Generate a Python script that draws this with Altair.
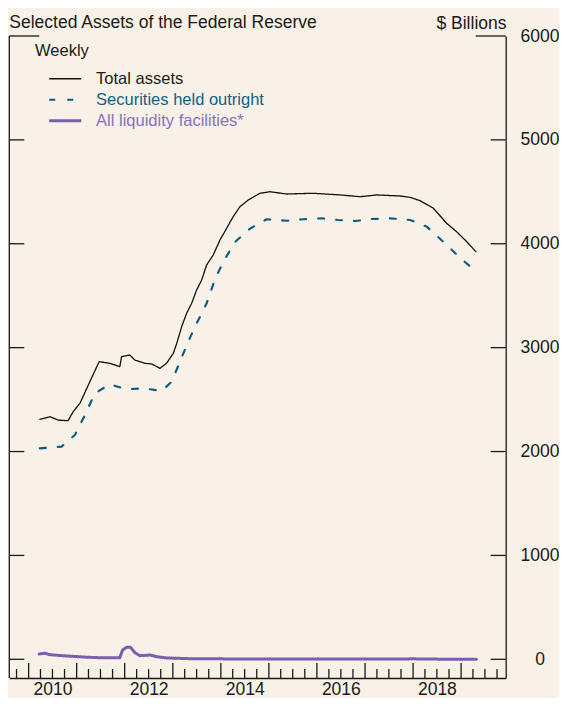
import altair as alt
import pandas as pd

# ---- data ----
total_dates = ["2010-03-27", "2010-06-12", "2010-08-13", "2010-10-28", "2010-12-05", "2011-01-26",
               "2011-04-11", "2011-06-21", "2011-09-10", "2011-11-25", "2011-12-08", "2012-02-09",
               "2012-03-18", "2012-06-03", "2012-07-24", "2012-09-25", "2012-11-14", "2013-01-05",
               "2013-01-31", "2013-03-09", "2013-04-16", "2013-05-24", "2013-07-01", "2013-08-08",
               "2013-09-15", "2013-11-04", "2013-12-25", "2014-02-14", "2014-04-05", "2014-05-26",
               "2014-07-28", "2014-10-25", "2015-01-10", "2015-05-16", "2015-12-04", "2016-06-25",
               "2016-11-24", "2017-03-31", "2017-09-24", "2017-12-09", "2018-02-23", "2018-06-04",
               "2018-09-13", "2018-11-28", "2019-02-13", "2019-04-23"]
total_vals = [2310, 2335, 2303, 2297, 2383, 2464,
              2672, 2865, 2849, 2817, 2913, 2929,
              2881, 2849, 2843, 2801, 2849, 2946,
              3042, 3202, 3331, 3427, 3555, 3651,
              3796, 3892, 4036, 4149, 4261, 4357,
              4421, 4486, 4501, 4479, 4486, 4470,
              4453, 4470, 4460, 4447, 4415, 4342,
              4197, 4116, 4020, 3924]

sec_dates = ["2010-03-27", "2010-09-08", "2010-12-18", "2011-03-05", "2011-05-20", "2011-09-10",
             "2012-01-15", "2012-05-21", "2012-10-08", "2012-12-23", "2013-02-24", "2013-04-28",
             "2013-07-01", "2013-09-15", "2013-11-17", "2014-01-20", "2014-04-17", "2014-08-10",
             "2014-12-15", "2015-05-16", "2015-09-19", "2016-02-06", "2016-06-12", "2016-10-17",
             "2017-02-21", "2017-07-10", "2017-12-09", "2018-04-15", "2018-08-18", "2018-12-10",
             "2019-04-16"]
sec_vals = [2031, 2047, 2159, 2352, 2561, 2647,
            2599, 2609, 2583, 2672, 2865, 3057,
            3234, 3427, 3658, 3827, 4015, 4145,
            4236, 4222, 4236, 4245, 4229, 4219,
            4238, 4245, 4229, 4165, 4020, 3882,
            3741]

liq_dates = ["2010-03-22", "2010-05-05", "2010-06-12", "2010-10-16", "2011-02-20", "2011-06-27",
             "2011-11-25", "2011-12-16", "2012-01-15", "2012-02-15", "2012-03-18", "2012-04-26",
             "2012-07-11", "2012-08-31", "2012-11-14", "2013-05-11", "2014-10-25", "2016-09-09",
             "2017-11-01", "2017-12-29", "2018-02-23", "2019-04-28"]
liq_vals = [51, 58, 44, 32, 22, 15,
            15, 90, 115, 115, 64, 35,
            41, 25, 13, 6, 2, 3,
            2, 6, 2, 1]

series_names = ["Total assets", "Securities held outright", "All liquidity facilities*"]
y_ticks = [0, 1000, 2000, 3000, 4000, 5000]
y_top = [6000]
label_years = [2010, 2012, 2014, 2016, 2018]
chart_title = ["Selected Assets of the Federal Reserve"]

# ---- styling ----
INK = "#1a1a1a"
BG = "#F8F1E7"
FONT = "Liberation Sans"
W, H = 496.4, 642

rows = []
for name, ds, vs in [(series_names[0], total_dates, total_vals),
                     (series_names[1], sec_dates, sec_vals),
                     (series_names[2], liq_dates, liq_vals)]:
    for d, v in zip(ds, vs):
        rows.append({"date": d, "value": v, "series": name})
df = pd.DataFrame(rows)

xscale = alt.Scale(domain=[alt.DateTime(year=2009, month=8, date=7),
                           alt.DateTime(year=2019, month=12, date=6)])
yscale = alt.Scale(domain=[-180, 6000], nice=False, zero=False)

xaxis = alt.Axis(values=[alt.DateTime(year=y, month=7, date=1) for y in label_years],
                 format="%Y", ticks=False, grid=False, domain=True, domainColor=INK,
                 domainWidth=1.3, labelFont=FONT, labelFontSize=17.5, labelColor=INK,
                 labelBaseline="alphabetic", labelPadding=16, labelFlush=False,
                 title=None)
yaxis = alt.Axis(orient="right", values=[0, 1000, 2000, 3000, 4000, 5000, 6000],
                 format="d", ticks=False, grid=False, domain=True, domainColor=INK,
                 domainWidth=1.3, labelFont=FONT, labelFontSize=17.5, labelColor=INK,
                 labelAlign="center", labelBaseline="middle", labelPadding=33.8,
                 labelFlush=False, labelOverlap=False, title="$ Billions", titleAngle=0,
                 titleAlign="right", titleBaseline="alphabetic", titleX=0.3, titleY=-8,
                 titleFont=FONT, titleFontSize=17.5, titleFontWeight="normal",
                 titleColor=INK)

label_fill = ("datum.label == 'Total assets' ? '#1a1a1a' : "
              "(datum.label == 'Securities held outright' ? '#14608a' : '#8a6fc0')")

legend = alt.Legend(orient="none", legendX=25.7, legendY=6.5, title="Weekly",
                    titleFont=FONT, titleFontSize=16.5, titleFontWeight="normal",
                    titleColor=INK, titlePadding=11.5, labelFont=FONT, labelFontSize=16.5,
                    labelColor=alt.ExprRef(expr=label_fill), labelLimit=400,
                    symbolType="M-2.5,0H2.5", symbolSize=164, symbolOffset=22,
                    labelOffset=22.6, rowPadding=4, padding=0)

lines = alt.Chart(df).mark_line(strokeCap="round", strokeJoin="round").encode(
    x=alt.X("date:T", scale=xscale, axis=xaxis),
    y=alt.Y("value:Q", scale=yscale, axis=yaxis),
    color=alt.Color("series:N", scale=alt.Scale(domain=series_names,
                    range=["#111111", "#0b5c83", "#7b5eae"]), legend=legend),
    strokeDash=alt.StrokeDash("series:N", scale=alt.Scale(domain=series_names,
                    range=[[1, 0], [6, 12], [1, 0]]), legend=legend),
    strokeWidth=alt.StrokeWidth("series:N", scale=alt.Scale(domain=series_names,
                    range=[1.3, 3, 4]), legend=legend),
    order=alt.Order("date:T"),
)

ytk = pd.DataFrame({"value": y_ticks})
ytop = pd.DataFrame({"value": y_top})
rule_y = alt.Y("value:Q", scale=yscale, axis=yaxis)

left_ticks = alt.Chart(ytk).mark_rule(color=INK, strokeWidth=1.3).encode(
    y=rule_y, x=alt.value(0), x2=alt.value(15))
right_ticks = alt.Chart(ytk).mark_rule(color=INK, strokeWidth=1.3).encode(
    y=rule_y, x=alt.value(W - 15), x2=alt.value(W))
left_top = alt.Chart(ytop).mark_rule(color=INK, strokeWidth=1.3).encode(
    y=rule_y, x=alt.value(0), x2=alt.value(30))
right_top = alt.Chart(ytop).mark_rule(color=INK, strokeWidth=1.3).encode(
    y=rule_y, x=alt.value(W - 30), x2=alt.value(W))
left_edge = alt.Chart(ytop).mark_rule(color=INK, strokeWidth=1.3).encode(
    x=alt.value(0), y=alt.value(0), y2=alt.value(H))

quarters = [d.strftime("%Y-%m-%d") for d in pd.date_range("2009-10-01", "2019-10-01", freq="QS")]
qdf = pd.DataFrame({"date": [d for d in quarters if not d.endswith("-01-01")]})
ydf = pd.DataFrame({"date": [d for d in quarters if d.endswith("-01-01")]})
rule_x = alt.X("date:T", scale=xscale, axis=xaxis)
q_ticks = alt.Chart(qdf).mark_rule(color=INK, strokeWidth=1.3).encode(
    x=rule_x, y=alt.value(H), y2=alt.value(H - 9))
yr_ticks = alt.Chart(ydf).mark_rule(color=INK, strokeWidth=1.3).encode(
    x=rule_x, y=alt.value(H), y2=alt.value(H - 15))

title_text = alt.Chart(pd.DataFrame({"t": chart_title})).mark_text(
    align="left", baseline="alphabetic", font=FONT, fontSize=17.5, color=INK
).encode(text="t:N", x=alt.value(0), y=alt.value(-8))

chart = alt.layer(left_edge, left_ticks, right_ticks, left_top, right_top,
                  q_ticks, yr_ticks, lines, title_text).properties(
    width=W, height=H,
    padding={"left": 1.3, "top": 28, "right": 53.3, "bottom": 20},
    autosize=alt.AutoSizeParams(type="none"),
    background=BG,
).configure(font=FONT).configure_view(stroke=None)

chart.save("out.html", embed_options={"renderer": "svg", "actions": False})
